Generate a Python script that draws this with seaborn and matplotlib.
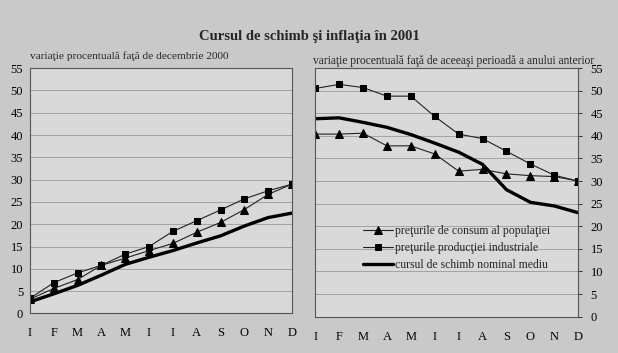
import numpy as np
import pandas as pd
import matplotlib
matplotlib.use("Agg")
import matplotlib.pyplot as plt
import seaborn as sns

# data
months = ["I", "F", "M", "A", "M", "I", "I", "A", "S", "O", "N", "D"]

# left panel: change vs december 2000
consum_dec = [3.2, 5.6, 7.6, 10.8, 12.4, 14.1, 15.7, 18.2, 20.4, 23.3, 26.7, 29.0]
productie_dec = [3.4, 6.9, 9.1, 10.8, 13.3, 15.0, 18.4, 20.8, 23.2, 25.7, 27.5, 29.0]
curs_dec = [2.6, 4.4, 6.3, 8.6, 11.0, 12.6, 14.1, 15.8, 17.4, 19.6, 21.5, 22.5]

# right panel: change vs same period of previous year
consum_an = [40.4, 40.4, 40.6, 37.8, 37.8, 36.0, 32.2, 32.6, 31.6, 31.2, 31.0, 30.0]
productie_an = [50.5, 51.4, 50.7, 48.8, 48.8, 44.3, 40.4, 39.4, 36.6, 33.8, 31.3, 30.0]
curs_an = [43.8, 44.0, 43.0, 41.9, 40.3, 38.4, 36.4, 33.7, 28.1, 25.3, 24.5, 23.0]

labels = ["preţurile de consum al populaţiei",
          "preţurile producţiei industriale",
          "cursul de schimb nominal mediu"]

sns.set_style("white")
plt.rcParams['font.family'] = ['Liberation Serif', 'DejaVu Serif']

fig = plt.figure(figsize=(6.18, 3.53), dpi=100)
fig.patch.set_facecolor("#c9c9c9")

ax1 = fig.add_axes([0.0485, 0.112, 0.424, 0.695])
ax2 = fig.add_axes([0.510, 0.103, 0.4256, 0.704])

x = np.arange(len(months))


def draw(ax, consum, productie, curs):
    ax.set_facecolor("#d9d9d9")
    for v in range(0, 56, 5):
        ax.axhline(v, color="#9a9a9a", lw=0.6, zorder=0)
    sns.lineplot(x=x, y=consum, ax=ax, color="#222222", lw=0.8,
                 marker="^", markersize=5.5, markeredgecolor="black",
                 markerfacecolor="black", label=labels[0])
    sns.lineplot(x=x, y=productie, ax=ax, color="#222222", lw=0.8,
                 marker="s", markersize=5, markeredgecolor="black",
                 markerfacecolor="black", label=labels[1])
    sns.lineplot(x=x, y=curs, ax=ax, color="black", lw=2.4,
                 label=labels[2])
    ax.set_xlim(0, 11)
    ax.set_ylim(0, 55)
    ax.set_yticks(range(0, 56, 5))
    ax.set_xticks(x)
    ax.set_xticklabels(months)
    ax.tick_params(axis="both", labelsize=9, length=3, width=0.7,
                   color="#333333", labelcolor="black", pad=6)
    ax.tick_params(axis="x", pad=7)
    for s in ax.spines.values():
        s.set_color("#555555")
        s.set_linewidth(0.8)


draw(ax1, consum_dec, productie_dec, curs_dec)
draw(ax2, consum_an, productie_an, curs_an)

ax1.get_legend().remove()
ax1.tick_params(axis="y", pad=2)
ax2.yaxis.tick_right()
ax2.tick_params(axis="y", pad=6)

leg = ax2.legend(loc="upper left", bbox_to_anchor=(0.18, 0.37), frameon=False,
                 fontsize=8.5, handlelength=2.6, handletextpad=0.15,
                 labelspacing=0.45, borderaxespad=0, borderpad=0)

fig.text(0.5, 0.898, "Cursul de schimb şi inflaţia în 2001", ha="center",
         va="center", fontsize=10.5, fontweight="bold")
fig.text(0.048, 0.842, "variaţie procentuală faţă de decembrie 2000",
         ha="left", va="center", fontsize=8.2)
fig.text(0.506, 0.828,
         "variaţie procentuală faţă de aceeaşi perioadă a anului anterior",
         ha="left", va="center", fontsize=8.3)

fig.savefig("out.png", dpi=100, facecolor=fig.get_facecolor())
